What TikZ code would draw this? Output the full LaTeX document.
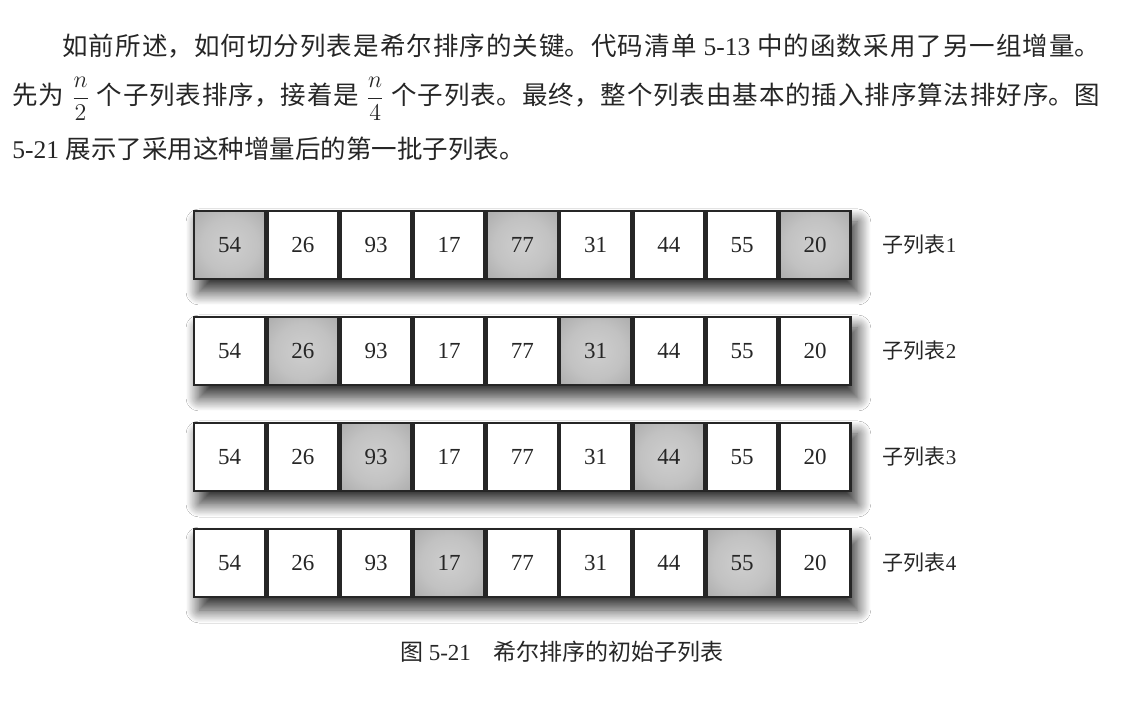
\documentclass[tikz,border=0pt]{standalone}
\usepackage{fontspec}
\usepackage{amsmath}
\setmainfont{Liberation Serif}
\newfontfamily\cjk{Noto Sans CJK SC}
\usetikzlibrary{positioning,fit,backgrounds,shadows.blur}
\XeTeXlinebreaklocale "zh"
\XeTeXlinebreakskip=0pt plus 3pt
\pgfdeclareradialshading{cellglow}{\pgfpoint{0bp}{0bp}}{color(0bp)=(black!19); color(20bp)=(black!24); color(50bp)=(black!40)}

\tikzset{
  cell/.style={draw=black!85, line width=1.2pt, minimum width=35.4pt, minimum height=33.8pt,
               inner sep=0pt, text=black!85, font=\fontsize{11.5}{12}\selectfont},
  hot/.style={cell, shading=cellglow},
  rowshade/.style={inner sep=0pt, fill=white, blur shadow={shadow xshift=3pt, shadow yshift=-6pt,
               shadow blur radius=6.5pt, shadow blur steps=16, shadow opacity=80}},
  tag/.style={text=black!85, font=\fontsize{10.5}{12}\selectfont},
  para/.style={anchor=base west, inner sep=0pt, text=black!85, font=\fontsize{12.75}{15}\selectfont}
}

\begin{document}
\begin{tikzpicture}[x=0.5pt,y=-0.5pt]
\useasboundingbox (0,0) rectangle (1121,704);

% text above the figure
\node[para] (T1) at (62,52)
  {\parbox{519pt}{\parfillskip=0pt\relax{\cjk 如前所述，如何切分列表是希尔排序的关键。代码清单} 5-13 {\cjk 中的函数采用了另一组增量。}}};
\node[para] (T2) at (12,105)
  {\parbox{544pt}{\parfillskip=0pt\relax{\cjk 先为} $\dfrac{n}{2}$ {\cjk 个子列表排序，接着是} $\dfrac{n}{4}$ {\cjk 个子列表。最终，整个列表由基本的插入排序算法排好序。图}}};
\node[para] (T3) at (12,159) {5-21 {\cjk 展示了采用这种增量后的第一批子列表。}};

% sublist 1
\node[hot]  (A1) at (229.6,245) {54};
\node[cell] (A2) [right=0pt of A1] {26};
\node[cell] (A3) [right=0pt of A2] {93};
\node[cell] (A4) [right=0pt of A3] {17};
\node[hot]  (A5) [right=0pt of A4] {77};
\node[cell] (A6) [right=0pt of A5] {31};
\node[cell] (A7) [right=0pt of A6] {44};
\node[cell] (A8) [right=0pt of A7] {55};
\node[hot]  (A9) [right=0pt of A8] {20};

% sublist 2
\node[cell] (B1) [below=18pt of A1] {54};
\node[hot]  (B2) [right=0pt of B1] {26};
\node[cell] (B3) [right=0pt of B2] {93};
\node[cell] (B4) [right=0pt of B3] {17};
\node[cell] (B5) [right=0pt of B4] {77};
\node[hot]  (B6) [right=0pt of B5] {31};
\node[cell] (B7) [right=0pt of B6] {44};
\node[cell] (B8) [right=0pt of B7] {55};
\node[cell] (B9) [right=0pt of B8] {20};

% sublist 3
\node[cell] (C1) [below=18pt of B1] {54};
\node[cell] (C2) [right=0pt of C1] {26};
\node[hot]  (C3) [right=0pt of C2] {93};
\node[cell] (C4) [right=0pt of C3] {17};
\node[cell] (C5) [right=0pt of C4] {77};
\node[cell] (C6) [right=0pt of C5] {31};
\node[hot]  (C7) [right=0pt of C6] {44};
\node[cell] (C8) [right=0pt of C7] {55};
\node[cell] (C9) [right=0pt of C8] {20};

% sublist 4
\node[cell] (D1) [below=18pt of C1] {54};
\node[cell] (D2) [right=0pt of D1] {26};
\node[cell] (D3) [right=0pt of D2] {93};
\node[hot]  (D4) [right=0pt of D3] {17};
\node[cell] (D5) [right=0pt of D4] {77};
\node[cell] (D6) [right=0pt of D5] {31};
\node[cell] (D7) [right=0pt of D6] {44};
\node[hot]  (D8) [right=0pt of D7] {55};
\node[cell] (D9) [right=0pt of D8] {20};

\node[tag] (L1) [right=12pt of A9] {{\cjk 子列表}1};
\node[tag] (L2) [right=12pt of B9] {{\cjk 子列表}2};
\node[tag] (L3) [right=12pt of C9] {{\cjk 子列表}3};
\node[tag] (L4) [right=12pt of D9] {{\cjk 子列表}4};

\node[tag, font=\fontsize{11.5}{13}\selectfont] (Cap) at (562,652)
  {{\cjk 图} 5-21\hspace{1em}{\cjk 希尔排序的初始子列表}};

\begin{scope}[on background layer]
\fill[white] (0,0) rectangle (1121,704);
\node[rowshade, fit=(A1)(A9)] {};
\node[rowshade, fit=(B1)(B9)] {};
\node[rowshade, fit=(C1)(C9)] {};
\node[rowshade, fit=(D1)(D9)] {};
\end{scope}
\end{tikzpicture}
\end{document}
